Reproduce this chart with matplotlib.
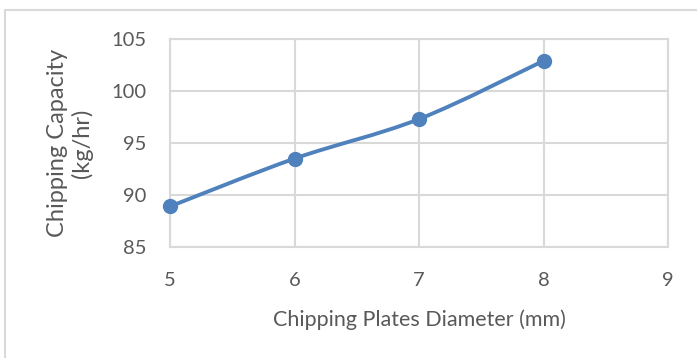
import numpy as np
import matplotlib.pyplot as plt
from matplotlib.path import Path
from matplotlib.patches import PathPatch, Rectangle

# plate diameter (mm) and measured chipping capacity (kg/hr)
diameter = [5, 6, 7, 8]
capacity = [88.9, 93.5, 97.3, 102.9]
x_ticks = [5, 6, 7, 8, 9]
y_ticks = [85, 90, 95, 100, 105]

line_color = "#4f81bd"
text_color = "#595959"
grid_color = "#d9d9d9"

plt.rcParams["font.family"] = ["Lato", "DejaVu Sans"]

fig = plt.figure(figsize=(6.97, 3.58), dpi=100)
ax = fig.add_axes([170 / 697, 111 / 358, 498 / 697, 208 / 358])

# outer chart frame
fig.patches.append(Rectangle((4.5 / 697, -0.1), 1.0, (358 - 9.5) / 358 + 0.1,
                             transform=fig.transFigure, fill=False,
                             edgecolor=grid_color, linewidth=1.5))


def smooth_path(xs, ys):
    # cubic bezier through the points, catmull-rom style control points
    pts = np.column_stack([xs, ys]).astype(float)
    n = len(pts)
    verts = [pts[0]]
    codes = [Path.MOVETO]
    for i in range(n - 1):
        p0 = pts[i - 1] if i > 0 else pts[i]
        p1 = pts[i]
        p2 = pts[i + 1]
        p3 = pts[i + 2] if i + 2 < n else pts[i + 1]
        c1 = p1 + (p2 - p0) / 6
        c2 = p2 - (p3 - p1) / 6
        verts += [c1, c2, p2]
        codes += [Path.CURVE4] * 3
    return Path(verts, codes)


ax.add_patch(PathPatch(smooth_path(diameter, capacity), facecolor="none",
                       edgecolor=line_color, linewidth=2.8, zorder=3,
                       capstyle="round", joinstyle="round"))
ax.plot(diameter, capacity, linestyle="none", marker="o", markersize=10,
        color=line_color, zorder=4, clip_on=False)

ax.set_xlim(5, 9)
ax.set_ylim(85, 105)
ax.set_xticks(x_ticks)
ax.set_yticks(y_ticks)
ax.grid(True, color=grid_color, linewidth=1.5)
ax.set_axisbelow(True)
for s in ax.spines.values():
    s.set_color(grid_color)
    s.set_linewidth(1.5)
ax.tick_params(length=0, labelsize=14.5, colors=text_color)
ax.tick_params(axis="x", pad=18)
ax.tick_params(axis="y", pad=17)

ax.set_xlabel("Chipping Plates Diameter (mm)", fontsize=15.5, color=text_color,
              labelpad=15)
ax.set_ylabel("Chipping Capacity\n(kg/hr)", fontsize=17, color=text_color,
              labelpad=13, linespacing=1.15)

plt.savefig("out.png", dpi=100)
